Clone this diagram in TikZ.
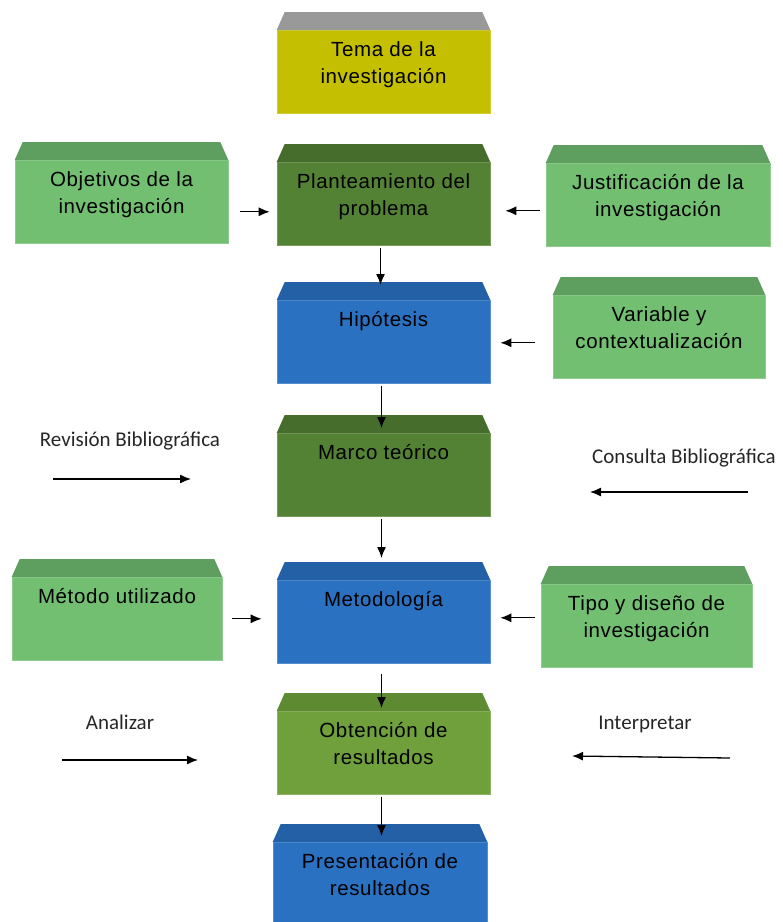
\documentclass[tikz,border=0pt]{standalone}
\usepackage{fontspec}
\setmainfont{Liberation Sans}[LetterSpace=3.0]
\newfontfamily\calibri{Carlito}
\usetikzlibrary{arrows.meta}
\definecolor{amarillo}{HTML}{C4BF00}
\definecolor{topamarillo}{HTML}{999999}
\definecolor{claro}{HTML}{72BF72}
\definecolor{topclaro}{HTML}{5E9E5E}
\definecolor{oscuro}{HTML}{548235}
\definecolor{toposcuro}{HTML}{466D2C}
\definecolor{azul}{HTML}{2A71C1}
\definecolor{topazul}{HTML}{2360A6}
\definecolor{oliva}{HTML}{70A03C}
\definecolor{topoliva}{HTML}{5E8A32}
\newcommand{\rotulo}[2]{\parbox[t][61pt][t]{#1}{\centering #2}}

\begin{document}
\begin{tikzpicture}[x=1pt,y=-1pt,>=Latex,font=\fontsize{20.5}{27}\selectfont,
  cara/.style={anchor=north,inner sep=0pt,inner ysep=11pt,fill=#1,draw=#1!80!white,line width=.6pt,text=black},
  flecha/.style={line width=1.3pt,-{Latex[length=11pt,width=9pt]}},
  nota/.style={font=\calibri\fontsize{21}{25}\selectfont,anchor=base,text=black!85}]
  \useasboundingbox (0,0) rectangle (783,922);

  % cajas con su cara superior
  \foreach \n/\x/\y/\w/\col/\txt in {
    tema/383.5/30/213/amarillo/{Tema de la\\investigación},
    objetivos/121.5/160/213/claro/{Objetivos de la\\investigación},
    plan/383.5/162/213/oscuro/{Planteamiento del\\problema},
    justif/658/163/224/claro/{Justificación de la\\investigación},
    hipo/383.5/300/213/azul/{Hipótesis},
    variable/659/295/212/claro/{Variable y\\contextualización},
    marco/383.5/433/213/oscuro/{Marco teórico},
    metodo/117/577/210/claro/{Método utilizado},
    metodologia/383.5/580/213/azul/{Metodología},
    tipo/646.5/584/211/claro/{Tipo y diseño de\\investigación},
    obtencion/383.5/711/213/oliva/{Obtención de\\resultados},
    present/380/842/214/azul/{Presentación de\\resultados}}
  {
    \node[cara=\col] (\n) at (\x,\y) {\rotulo{\w pt}{\txt}};
    \fill[top\col] (\n.north west) -- ([shift={(8,-18)}]\n.north west)
      -- ([shift={(-8,-18)}]\n.north east) -- (\n.north east) -- cycle;
  }

  % flechas entre cajas
  \draw[flecha,shorten <=12pt,shorten >=7pt] ([yshift=-10pt]objetivos.east) -- ([yshift=-10pt]objetivos.east -| plan.west);
  \draw[flecha,shorten <=6pt,shorten >=15pt] ([yshift=-6pt]justif.west) -- ([yshift=-6pt]justif.west -| plan.east);
  \draw[flecha,shorten <=2pt,shorten >=15pt] ([xshift=-3pt]plan.south) -- ([xshift=-3pt]hipo.north);
  \draw[flecha,shorten <=18pt,shorten >=10pt] ([yshift=-6pt]variable.west) -- ([yshift=-6pt]variable.west -| hipo.east);
  \draw[flecha,shorten <=2pt,shorten >=5pt] ([xshift=-2pt]hipo.south) -- ([xshift=-2pt]marco.north);
  \draw[flecha,shorten <=2pt,shorten >=22pt] ([xshift=-2pt]marco.south) -- ([xshift=-2pt]metodologia.north);
  \draw[flecha,shorten <=10pt,shorten >=15pt] (metodo.east) -- (metodo.east -| metodologia.west);
  \draw[flecha,shorten <=6pt,shorten >=10pt] ([yshift=8pt]tipo.west) -- ([yshift=8pt]tipo.west -| metodologia.east);
  \draw[flecha,shorten <=10pt,shorten >=3pt] ([xshift=-2pt]metodologia.south) -- ([xshift=-2pt]obtencion.north);
  \draw[flecha,shorten <=2pt,shorten >=6pt] ([xshift=-2pt]obtencion.south) -- ([xshift=-2pt]obtencion.south |- present.north);

  % notas laterales
  \node[nota] (revision) at (130,446) {Revisión Bibliográfica};
  \node[nota] (consulta) at (684,463) {Consulta Bibliográfica};
  \node[nota] (analizar) at (120,729) {Analizar};
  \node[nota] (interpretar) at (645,729) {Interpretar};
  \coordinate (r1) at (53,479);
  \coordinate (r2) at (191,479);
  \coordinate (c1) at (748,492);
  \coordinate (c2) at (590,492);
  \coordinate (a1) at (62,760);
  \coordinate (a2) at (198,760);
  \coordinate (i1) at (730,758);
  \coordinate (i2) at (572,756);
  \draw[flecha] (r1) -- (r2);
  \draw[flecha] (c1) -- (c2);
  \draw[flecha] (a1) -- (a2);
  \draw[flecha] (i1) -- (i2);

\end{tikzpicture}
\end{document}
